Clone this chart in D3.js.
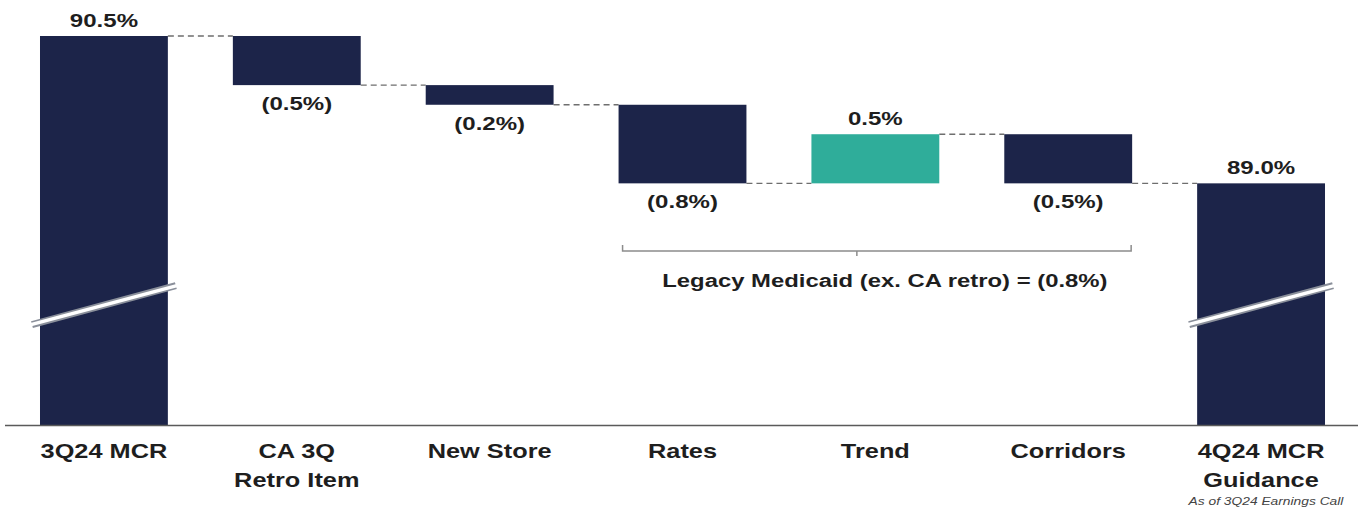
<!DOCTYPE html>
<html>
<head>
<meta charset="utf-8">
<script src="https://cdnjs.cloudflare.com/ajax/libs/d3/7.8.5/d3.min.js"></script>
<style>
  html, body { margin: 0; padding: 0; background: #fff; }
  svg { display: block; }
  text { font-family: "Liberation Sans", Arial, sans-serif; }
</style>
</head>
<body>
<svg id="chart" width="1358" height="507"></svg>
<script>
// ---- data ----
const categories = ["3Q24 MCR", "CA 3Q\nRetro Item", "New Store", "Rates", "Trend", "Corridors", "4Q24 MCR\nGuidance"];
const barTypes   = ["total", "delta", "delta", "delta", "delta", "delta", "total"];
const values     = [90.5, -0.5, -0.2, -0.8, 0.5, -0.5, 89.0];
const valueLabels = ["90.5%", "(0.5%)", "(0.2%)", "(0.8%)", "0.5%", "(0.5%)", "89.0%"];
const bracketFrom = "Rates", bracketTo = "Corridors";
const bracketLabel = "Legacy Medicaid (ex. CA retro) = (0.8%)";
const footnote = "As of 3Q24 Earnings Call";
const breakValue = 87.76;
const yDomain = [86.54, 90.5];

// ---- styles ----
const NAVY = "#1c2449", TEAL = "#2fad9a", TEXT = "#1e1e1e";
const SX = 1.3; // horizontal text stretch seen in reference

const svg = d3.select("#chart");
const W = 1358, H = 507;

const x = d3.scaleBand().domain(categories).range([7.5, 1357.5]).paddingInner(0.337).paddingOuter(0.1685);
const y = d3.scaleLinear().domain(yDomain).range([425, 36]);

// compute bars
let running = 0;
const bars = categories.map((c, i) => {
  let lo, hi, end;
  if (barTypes[i] === "total") {
    lo = yDomain[0]; hi = values[i]; end = values[i];
  } else {
    const start = running;
    end = Math.round((running + values[i]) * 100) / 100;
    lo = Math.min(start, end); hi = Math.max(start, end);
  }
  running = end;
  return { c, i, lo, hi, end, v: values[i], type: barTypes[i], label: valueLabels[i] };
});

function stretchedText(g, tx, ty, str, opts = {}) {
  return g.append("text")
    .attr("transform", `translate(${tx},${ty}) scale(${opts.sx || SX},1)`)
    .attr("text-anchor", opts.anchor || "middle")
    .attr("font-size", opts.size || 18)
    .attr("font-weight", opts.weight || "bold")
    .attr("font-style", opts.style || "normal")
    .attr("fill", opts.fill || TEXT)
    .text(str);
}

// connectors
const conn = svg.append("g");
bars.slice(0, -1).forEach((b, i) => {
  const nb = bars[i + 1];
  conn.append("line")
    .attr("x1", x(b.c) + x.bandwidth()).attr("x2", x(nb.c))
    .attr("y1", y(b.end)).attr("y2", y(b.end))
    .attr("stroke", "#6e6e6e").attr("stroke-width", 1.3)
    .attr("stroke-dasharray", "6,4");
});

// bars
svg.append("g").selectAll("rect").data(bars).join("rect")
  .attr("x", d => x(d.c))
  .attr("width", x.bandwidth())
  .attr("y", d => y(d.hi))
  .attr("height", d => y(d.lo) - y(d.hi))
  .attr("fill", d => (d.type === "delta" && d.v > 0) ? TEAL : NAVY);

// axis baseline
svg.append("line").attr("x1", 5).attr("x2", W).attr("y1", y(yDomain[0]) + 0.5).attr("y2", y(yDomain[0]) + 0.5)
  .attr("stroke", "#5a5a5a").attr("stroke-width", 1.5);

// break marks on total bars
const brk = svg.append("g");
bars.filter(d => d.type === "total").forEach(d => {
  const x0 = x(d.c) - 8, x1 = x(d.c) + x.bandwidth() + 8;
  const cy = y(breakValue);
  const dy = 19.5;
  brk.append("line").attr("x1", x0).attr("x2", x1).attr("y1", cy + dy).attr("y2", cy - dy)
    .attr("stroke", "#8a8f9a").attr("stroke-width", 7).attr("stroke-linecap", "butt");
  brk.append("line").attr("x1", x0 - 1).attr("x2", x1 + 1).attr("y1", cy + dy).attr("y2", cy - dy)
    .attr("stroke", "#ffffff").attr("stroke-width", 3.5);
});

// value labels
const vl = svg.append("g");
bars.forEach(d => {
  const cx = x(d.c) + x.bandwidth() / 2;
  if (d.type === "total" || d.v > 0) {
    stretchedText(vl, cx, y(d.hi) - 9, d.label, { size: 18.5 });
  } else {
    stretchedText(vl, cx, y(d.lo) + 25, d.label, { size: 18.5 });
  }
});

// category labels
const cl = svg.append("g");
categories.forEach(c => {
  const cx = x(c) + x.bandwidth() / 2;
  c.split("\n").forEach((line, k) => {
    stretchedText(cl, cx, 458 + k * 29, line, { size: 19.5, sx: 1.3 });
  });
});

// bracket
const bx0 = x(bracketFrom) + 4, bx1 = x(bracketTo) + x.bandwidth() - 1;
const by = 251;
const br = svg.append("g").attr("fill", "none").attr("stroke", "#8c8c8c").attr("stroke-width", 1.5);
br.append("path").attr("d", `M${bx0},${by - 6} L${bx0},${by} L${bx1},${by} L${bx1},${by - 6}`);
br.append("line").attr("x1", (bx0 + bx1) / 2 - 20).attr("x2", (bx0 + bx1) / 2 - 20).attr("y1", by).attr("y2", by + 5);
stretchedText(svg, (bx0 + bx1) / 2 + 8, 287, bracketLabel, { size: 18.5, sx: 1.29 });

// footnote
stretchedText(svg, 1266, 505, footnote, { size: 11.5, weight: "normal", style: "italic", fill: "#444", sx: 1.2 });
</script>
</body>
</html>
